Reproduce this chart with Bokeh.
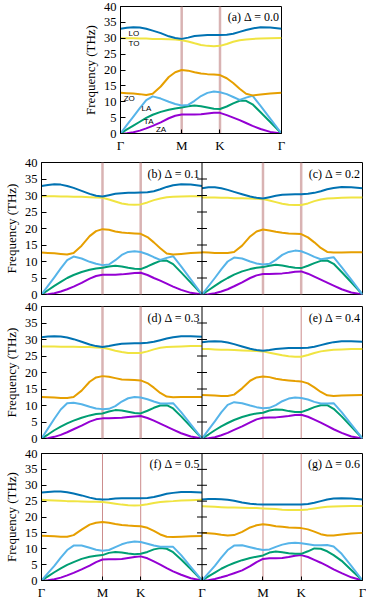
from bokeh.plotting import figure
from bokeh.layouts import column, row
from bokeh.models import Span, FixedTicker, Range1d
from bokeh.core.properties import value
from bokeh.embed import file_html
from bokeh.resources import INLINE

# k-path position (per mille of the Γ-M-K-Γ path)
X = [0, 40, 80, 120, 160, 200, 250, 300, 340, 380, 420, 460, 500, 540, 580, 618,
     660, 700, 740, 780, 820, 870, 930, 1000]
PATH_LEN = 1000
TICK_POS = [0, 380, 618, 1000]
TICK_LABELS = ["Γ", "M", "K", "Γ"]
SYM_POS = [380, 618]
Y_TICKS = [0, 5, 10, 15, 20, 25, 30, 35, 40]
BAND_NAMES = ["ZA", "TA", "LA", "ZO", "TO", "LO"]
BAND_COLORS = ["#9400d3", "#009e73", "#56b4e9", "#e69f00", "#f0e442", "#0072b2"]

# (a) Δ = 0.0
A_ZA = [0, 0.1, 0.4, 0.9, 1.6, 2.4, 3.5, 4.8, 5.6, 6.0, 6.0, 6.0, 6.1, 6.3, 6.5, 6.5, 5.8, 5.0, 4.2, 3.3, 2.4, 1.4, 0.5, 0]
A_TA = [0, 1.3, 2.5, 3.7, 4.9, 5.9, 6.8, 7.5, 7.9, 8.2, 8.6, 8.8, 8.6, 8.2, 7.8, 7.7, 8.5, 9.5, 10.3, 10.3, 9.2, 6.7, 3.6, 0]
A_LA = [0, 2.7, 5.3, 8.0, 10.5, 11.7, 11.0, 10.0, 9.3, 8.8, 9.0, 10.3, 11.8, 12.8, 13.2, 13.0, 12.4, 11.5, 10.6, 11.3, 11.9, 8.7, 4.7, 0]
A_ZO = [12.8, 12.7, 12.6, 12.4, 12.1, 12.5, 14.8, 17.8, 19.3, 20.0, 19.8, 19.3, 18.9, 18.7, 18.6, 18.4, 17.4, 15.9, 14.1, 12.5, 12.0, 12.3, 12.6, 12.8]
A_TO = [30.0, 30.0, 30.0, 29.9, 29.9, 29.8, 29.8, 29.7, 29.6, 29.4, 29.0, 28.4, 27.9, 27.6, 27.5, 27.6, 28.2, 28.9, 29.4, 29.6, 29.8, 29.9, 30.0, 30.1]
A_LO = [33.0, 33.3, 33.5, 33.4, 33.0, 32.4, 31.6, 30.6, 30.1, 29.8, 30.2, 30.7, 30.9, 31.0, 31.0, 31.0, 31.1, 31.4, 32.0, 32.6, 33.1, 33.5, 33.4, 33.0]

# (b) Δ = 0.1
B_ZA = [0, 0.1, 0.4, 0.9, 1.6, 2.4, 3.5, 4.8, 5.6, 6.0, 6.0, 6.0, 6.1, 6.3, 6.5, 6.6, 5.9, 5.0, 4.2, 3.3, 2.4, 1.4, 0.5, 0]
B_TA = [0, 1.3, 2.6, 3.8, 5.0, 5.9, 6.8, 7.5, 7.9, 8.1, 8.5, 8.7, 8.5, 8.1, 7.8, 7.7, 8.5, 9.4, 10.2, 10.3, 9.2, 6.7, 3.6, 0]
B_LA = [0, 2.6, 5.2, 7.9, 10.4, 11.5, 10.9, 9.9, 9.3, 8.9, 9.1, 10.4, 12.0, 12.9, 13.1, 12.9, 12.2, 11.3, 10.5, 11.1, 11.6, 8.5, 4.6, 0]
B_ZO = [12.7, 12.6, 12.5, 12.3, 12.1, 12.6, 14.8, 17.7, 19.2, 19.8, 19.6, 19.1, 18.8, 18.6, 18.5, 18.4, 17.4, 15.8, 14.0, 12.4, 12.1, 12.3, 12.6, 12.7]
B_TO = [29.8, 29.8, 29.8, 29.7, 29.7, 29.6, 29.6, 29.5, 29.4, 29.3, 28.8, 28.2, 27.6, 27.3, 27.2, 27.3, 27.9, 28.6, 29.1, 29.5, 29.6, 29.7, 29.8, 29.8]
B_LO = [32.9, 33.2, 33.4, 33.3, 32.9, 32.3, 31.4, 30.5, 29.9, 29.7, 30.1, 30.5, 30.7, 30.8, 30.8, 30.9, 31.0, 31.3, 31.9, 32.6, 33.1, 33.4, 33.3, 32.9]

# (c) Δ = 0.2
C_ZA = [0, 0.1, 0.4, 0.9, 1.6, 2.5, 3.7, 5.0, 5.8, 6.2, 6.2, 6.3, 6.4, 6.6, 6.9, 7.0, 6.3, 5.4, 4.5, 3.6, 2.7, 1.6, 0.6, 0]
C_TA = [0, 1.3, 2.6, 3.9, 5.0, 6.0, 7.0, 7.7, 8.1, 8.3, 8.7, 9.0, 8.8, 8.4, 8.1, 8.0, 8.7, 9.5, 10.2, 10.3, 9.3, 6.8, 3.7, 0]
C_LA = [0, 2.5, 5.0, 7.6, 10.0, 11.2, 10.9, 10.0, 9.4, 9.1, 9.3, 10.5, 12.0, 12.9, 13.3, 13.1, 12.3, 11.4, 10.7, 11.0, 11.3, 8.3, 4.5, 0]
C_ZO = [12.8, 12.7, 12.6, 12.6, 12.6, 12.9, 14.8, 17.6, 19.1, 19.7, 19.4, 19.0, 18.7, 18.5, 18.4, 18.3, 17.3, 15.8, 14.1, 12.9, 12.7, 12.7, 12.8, 12.8]
C_TO = [29.4, 29.4, 29.4, 29.3, 29.3, 29.2, 29.2, 29.1, 29.0, 28.9, 28.5, 28.0, 27.5, 27.2, 27.1, 27.1, 27.6, 28.3, 28.8, 29.1, 29.2, 29.3, 29.4, 29.4]
C_LO = [32.2, 32.5, 32.5, 32.2, 31.7, 31.1, 30.4, 29.7, 29.3, 29.1, 29.5, 29.9, 30.2, 30.3, 30.4, 30.4, 30.5, 30.8, 31.3, 31.9, 32.3, 32.6, 32.5, 32.2]

# (d) Δ = 0.3
D_ZA = [0, 0.1, 0.5, 1.1, 1.9, 2.8, 3.9, 5.1, 5.8, 6.1, 6.1, 6.2, 6.3, 6.5, 6.7, 6.8, 6.2, 5.4, 4.5, 3.6, 2.7, 1.6, 0.6, 0]
D_TA = [0, 1.2, 2.5, 3.6, 4.6, 5.4, 6.3, 7.0, 7.4, 7.6, 8.2, 8.6, 8.5, 8.1, 7.7, 7.6, 8.4, 9.3, 10.0, 10.1, 9.1, 6.7, 3.6, 0]
D_LA = [0, 3.0, 6.0, 8.8, 10.7, 10.8, 10.4, 9.6, 9.1, 8.9, 9.0, 9.8, 11.2, 12.2, 12.6, 12.4, 11.9, 11.2, 10.6, 10.6, 10.7, 8.0, 4.3, 0]
D_ZO = [12.6, 12.5, 12.4, 12.3, 12.3, 12.6, 14.5, 17.2, 18.5, 18.9, 18.7, 18.3, 17.9, 17.8, 17.7, 17.6, 16.8, 15.4, 13.8, 12.7, 12.5, 12.6, 12.6, 12.6]
D_TO = [27.9, 27.9, 27.9, 27.8, 27.8, 27.8, 27.7, 27.7, 27.6, 27.5, 27.1, 26.6, 26.2, 25.9, 25.9, 25.9, 26.4, 27.0, 27.5, 27.7, 27.8, 27.9, 28.0, 28.0]
D_LO = [30.7, 30.9, 31.0, 30.9, 30.6, 30.1, 29.3, 28.5, 28.0, 27.7, 28.0, 28.4, 28.7, 28.8, 28.9, 28.9, 29.0, 29.3, 29.8, 30.3, 30.7, 31.0, 31.0, 30.8]

# (e) Δ = 0.4
E_ZA = [0, 0.1, 0.4, 1.0, 1.7, 2.6, 3.7, 4.9, 5.8, 6.3, 6.4, 6.4, 6.6, 6.8, 7.1, 7.2, 6.6, 5.7, 4.8, 3.8, 2.8, 1.7, 0.6, 0]
E_TA = [0, 1.2, 2.5, 3.7, 4.7, 5.6, 6.5, 7.2, 7.6, 7.8, 8.5, 8.8, 8.7, 8.3, 8.0, 8.0, 8.7, 9.5, 10.1, 10.1, 9.0, 6.7, 3.6, 0]
E_LA = [0, 2.6, 5.2, 7.9, 10.2, 11.0, 10.7, 10.0, 9.5, 9.2, 9.3, 10.1, 11.3, 12.1, 12.4, 12.3, 11.8, 11.1, 10.6, 10.6, 10.7, 8.0, 4.3, 0]
E_ZO = [13.2, 13.1, 13.0, 12.9, 12.9, 13.3, 15.2, 17.5, 18.5, 18.8, 18.6, 18.1, 17.8, 17.6, 17.4, 17.3, 16.7, 15.5, 14.1, 13.1, 12.9, 13.0, 13.1, 13.2]
E_TO = [27.1, 27.1, 27.0, 26.9, 26.9, 26.8, 26.7, 26.6, 26.5, 26.4, 26.0, 25.6, 25.2, 24.9, 24.8, 24.8, 25.3, 25.9, 26.4, 26.7, 26.9, 27.0, 27.1, 27.1]
E_LO = [29.2, 29.4, 29.5, 29.4, 29.1, 28.6, 27.9, 27.2, 26.8, 26.6, 26.8, 27.1, 27.3, 27.4, 27.4, 27.4, 27.5, 27.8, 28.3, 28.8, 29.2, 29.5, 29.5, 29.3]

# (f) Δ = 0.5
F_ZA = [0, 0.1, 0.4, 0.9, 1.6, 2.4, 3.5, 4.7, 5.8, 6.6, 6.7, 6.7, 6.8, 7.1, 7.4, 7.6, 7.0, 6.0, 5.0, 3.9, 2.9, 1.8, 0.7, 0]
F_TA = [0, 1.3, 2.6, 3.8, 4.9, 5.8, 6.8, 7.5, 7.8, 8.0, 8.7, 9.0, 8.8, 8.5, 8.3, 8.4, 9.0, 9.8, 10.2, 10.0, 8.9, 6.6, 3.6, 0]
F_LA = [0, 2.3, 4.6, 7.2, 9.6, 11.0, 11.0, 10.3, 9.7, 9.4, 9.6, 10.5, 11.4, 12.0, 12.3, 12.1, 11.6, 11.0, 10.6, 10.6, 10.6, 8.0, 4.3, 0]
F_ZO = [14.1, 14.0, 13.9, 13.8, 13.8, 14.3, 16.0, 17.6, 18.2, 18.4, 18.2, 17.8, 17.5, 17.3, 17.2, 17.1, 16.6, 15.6, 14.5, 13.8, 13.7, 13.8, 13.9, 14.0]
F_TO = [25.4, 25.3, 25.2, 25.1, 25.0, 25.0, 24.9, 24.8, 24.8, 24.7, 24.5, 24.2, 23.9, 23.7, 23.6, 23.7, 24.0, 24.4, 24.7, 24.9, 25.0, 25.2, 25.3, 25.4]
F_LO = [27.7, 27.9, 28.0, 28.0, 27.8, 27.4, 26.8, 26.1, 25.7, 25.5, 25.6, 25.8, 25.9, 25.9, 25.9, 25.9, 26.0, 26.3, 26.8, 27.3, 27.6, 27.9, 27.9, 27.7]

# (g) Δ = 0.6
G_ZA = [0, 0.1, 0.5, 1.0, 1.6, 2.3, 3.2, 4.5, 5.8, 6.8, 7.0, 7.0, 7.1, 7.4, 7.8, 8.0, 7.4, 6.5, 5.6, 4.6, 3.5, 2.3, 1.0, 0]
G_TA = [0, 1.3, 2.5, 3.7, 4.7, 5.5, 6.4, 7.1, 7.5, 7.9, 8.8, 9.1, 8.9, 8.6, 8.4, 8.4, 9.2, 10.1, 10.0, 9.2, 8.0, 6.2, 3.3, 0]
G_LA = [0, 2.3, 4.6, 7.2, 9.6, 11.0, 11.1, 10.5, 10.0, 9.6, 9.8, 10.6, 11.3, 11.7, 11.9, 11.7, 11.4, 11.1, 11.1, 11.2, 10.7, 8.4, 4.6, 0]
G_ZO = [15.0, 14.9, 14.7, 14.4, 14.2, 14.3, 15.3, 16.7, 17.4, 17.7, 17.5, 17.1, 16.9, 16.7, 16.6, 16.5, 16.1, 15.4, 14.6, 14.2, 14.2, 14.5, 14.8, 15.0]
G_TO = [23.4, 23.3, 23.2, 23.1, 23.0, 23.0, 22.9, 22.8, 22.8, 22.7, 22.6, 22.5, 22.3, 22.2, 22.2, 22.2, 22.4, 22.7, 23.0, 23.2, 23.3, 23.4, 23.5, 23.5]
G_LO = [25.5, 25.7, 25.7, 25.6, 25.4, 25.1, 24.6, 24.2, 24.0, 23.9, 23.9, 23.9, 23.9, 23.9, 23.9, 23.9, 24.1, 24.5, 25.0, 25.5, 25.8, 25.9, 25.8, 25.5]

TITLES = ["(a) Δ = 0.0", "(b) Δ = 0.1", "(c) Δ = 0.2", "(d) Δ = 0.3",
          "(e) Δ = 0.4", "(f) Δ = 0.5", "(g) Δ = 0.6"]

# band labels of panel (a)
LBL_TEXT = ["LO", "TO", "ZO", "LA", "TA", "ZA"]
LBL_X = [50, 50, 20, 130, 145, 220]
LBL_Y = [31.6, 28.3, 11.1, 7.8, 3.9, 1.2]

SERIF = "Liberation Serif"
TICK_LEN = 31  # inner tick length in k-path units (about 5 px)


def style_axes(p, xlabels, nseg):
    p.grid.visible = False
    p.outline_line_color = "black"
    p.outline_line_width = 1
    p.outline_line_alpha = 1
    p.background_fill_color = "white"
    p.border_fill_color = "white"

    yax = p.yaxis[0]
    yax.ticker = FixedTicker(ticks=Y_TICKS)
    yax.major_tick_in = 5
    yax.major_tick_out = 0
    yax.minor_tick_line_color = None
    yax.axis_line_color = "black"
    yax.major_tick_line_color = "black"
    yax.axis_label = "Frequency (THz)"
    yax.axis_label_text_font = SERIF
    yax.axis_label_text_font_size = "13px"
    yax.axis_label_text_font_style = "normal"
    yax.axis_label_text_color = "black"
    yax.axis_label_standoff = 3
    yax.major_label_text_font = SERIF
    yax.major_label_text_font_size = "12.5px"
    yax.major_label_text_color = "black"
    yax.major_label_standoff = 4

    if xlabels:
        ticks = []
        labels = {}
        for k in range(nseg):
            for t, l in zip(TICK_POS, TICK_LABELS):
                ticks.append(t + k * PATH_LEN)
                labels[t + k * PATH_LEN] = l
        ticks = sorted(set(ticks))
        xax = p.xaxis[0]
        xax.ticker = FixedTicker(ticks=ticks)
        xax.major_label_overrides = labels
        xax.major_tick_in = 4
        xax.major_tick_out = 0
        xax.minor_tick_line_color = None
        xax.axis_line_color = "black"
        xax.major_label_text_font = SERIF
        xax.major_label_text_font_size = "13px"
        xax.major_label_text_color = "black"
        xax.major_label_standoff = 4


def draw_bands(p, bands, title, offset, thick):
    for s in SYM_POS:
        if thick:
            sp = Span(location=s + offset, dimension="height", line_color="#d9b3b3",
                      line_width=2.5, level="underlay")
        else:
            sp = Span(location=s + offset, dimension="height", line_color="#cc8c8c",
                      line_width=1, level="underlay")
        p.add_layout(sp)
    xs = [x + offset for x in X]
    for vals, col in zip(bands, BAND_COLORS):
        p.line(xs, vals, line_color=col, line_width=2, line_join="round")
    p.text(x=[offset + 988], y=[36.6], text=[title], text_align="right",
           text_baseline="middle", text_font=value(SERIF),
           text_font_size="12px", text_color="black")


def pair(left, right, tl, tr, height, bt, bb, xlabels, thick_l, thick_r):
    p = figure(width=37 + 325 + 4, height=height,
               x_range=Range1d(0, 2 * PATH_LEN), y_range=Range1d(0, 40),
               output_backend="svg", toolbar_location=None,
               x_axis_location="below" if xlabels else None,
               y_axis_location="left",
               min_border_left=37, min_border_right=4,
               min_border_top=bt, min_border_bottom=bb)
    style_axes(p, xlabels, 2)
    draw_bands(p, left, tl, 0, thick_l)
    draw_bands(p, right, tr, PATH_LEN, thick_r)
    # shared edge between the two panels, with inward ticks on both sides
    p.add_layout(Span(location=PATH_LEN, dimension="height", line_color="black",
                      line_width=1, level="overlay"))
    n = len(Y_TICKS)
    p.segment(x0=[PATH_LEN - TICK_LEN] * n, y0=Y_TICKS,
              x1=[PATH_LEN + TICK_LEN] * n, y1=Y_TICKS,
              line_color="black", line_width=1)
    return p


pa = figure(width=120 + 161 + 5, height=6 + 131 + 18,
            x_range=Range1d(0, PATH_LEN), y_range=Range1d(0, 40),
            output_backend="svg", toolbar_location=None,
            min_border_left=120, min_border_right=5,
            min_border_top=6, min_border_bottom=18)
style_axes(pa, True, 1)
draw_bands(pa, [A_ZA, A_TA, A_LA, A_ZO, A_TO, A_LO], TITLES[0], 0, True)
pa.text(x=LBL_X, y=LBL_Y, text=LBL_TEXT, text_align="left",
        text_baseline="middle", text_font=value("Liberation Sans"),
        text_font_size="8px", text_color="black")

pbc = pair([B_ZA, B_TA, B_LA, B_ZO, B_TO, B_LO], [C_ZA, C_TA, C_LA, C_ZO, C_TO, C_LO],
           TITLES[1], TITLES[2], 7 + 132 + 6, 7, 6, False, True, True)
pde = pair([D_ZA, D_TA, D_LA, D_ZO, D_TO, D_LO], [E_ZA, E_TA, E_LA, E_ZO, E_TO, E_LO],
           TITLES[3], TITLES[4], 6 + 132 + 7, 6, 7, False, True, False)
pfg = pair([F_ZA, F_TA, F_LA, F_ZO, F_TO, F_LO], [G_ZA, G_TA, G_LA, G_ZO, G_TO, G_LO],
           TITLES[5], TITLES[6], 8 + 132 + 17, 8, 17, True, False, False)

# each plot wrapped in its own row so that the column does not align their frames
layout = column(row(pa), row(pbc), row(pde), row(pfg))

with open("out.html", "w") as f:
    f.write(file_html(layout, INLINE))
